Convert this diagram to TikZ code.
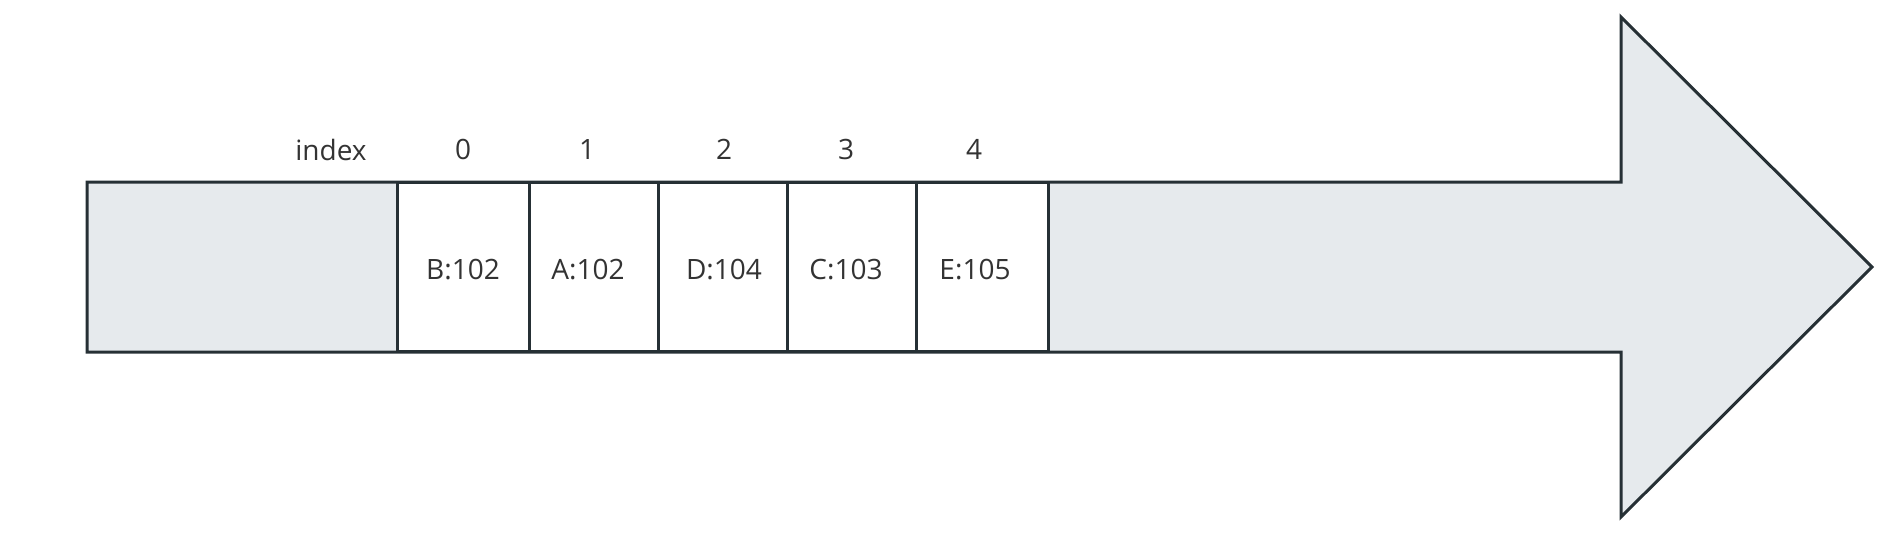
\documentclass[tikz,border=0pt]{standalone}
\usepackage{fontspec}
\setmainfont{Open Sans}
\definecolor{linec}{HTML}{263035}
\definecolor{fillc}{HTML}{E6EAED}
\definecolor{textc}{HTML}{333333}
\tikzset{
  cell/.style={draw=linec, line width=3pt, fill=white, inner sep=0pt, minimum height=169pt, anchor=north west, outer sep=0pt, text=textc},
  lbl/.style={text=textc, font=\fontsize{28}{33}\selectfont, inner sep=0pt},
  arrowbody/.style={draw=linec, line width=3pt, fill=fillc, line join=miter}
}
\begin{document}
\begin{tikzpicture}[x=1pt,y=-1pt]
\useasboundingbox (0,0) rectangle (1881,541);
\draw[arrowbody] (87,182) -- (1621,182) -- (1621,17) -- (1872,267) -- (1621,517) -- (1621,352) -- (87,352) -- cycle;
\node[cell, minimum width=132pt] (c0) at (397,182.5) {};
\node[cell, minimum width=129pt] (c1) at (529,182.5) {};
\node[cell, minimum width=129pt] (c2) at (658,182.5) {};
\node[cell, minimum width=129pt] (c3) at (787,182.5) {};
\node[cell, minimum width=132pt] (c4) at (916,182.5) {};
\node[lbl] (t0) at (463,270) {B:102};
\node[lbl] (t1) at (588,270) {A:102};
\node[lbl] (t2) at (724,270) {D:104};
\node[lbl] (t3) at (846,270) {C:103};
\node[lbl] (t4) at (975,270) {E:105};
\node[lbl] (idx) at (331,149.5) {index};
\node[lbl] (i0) at (463,149.5) {0};
\node[lbl] (i1) at (587,149.5) {1};
\node[lbl] (i2) at (724,149.5) {2};
\node[lbl] (i3) at (846,149.5) {3};
\node[lbl] (i4) at (974,149.5) {4};
\end{tikzpicture}
\end{document}
